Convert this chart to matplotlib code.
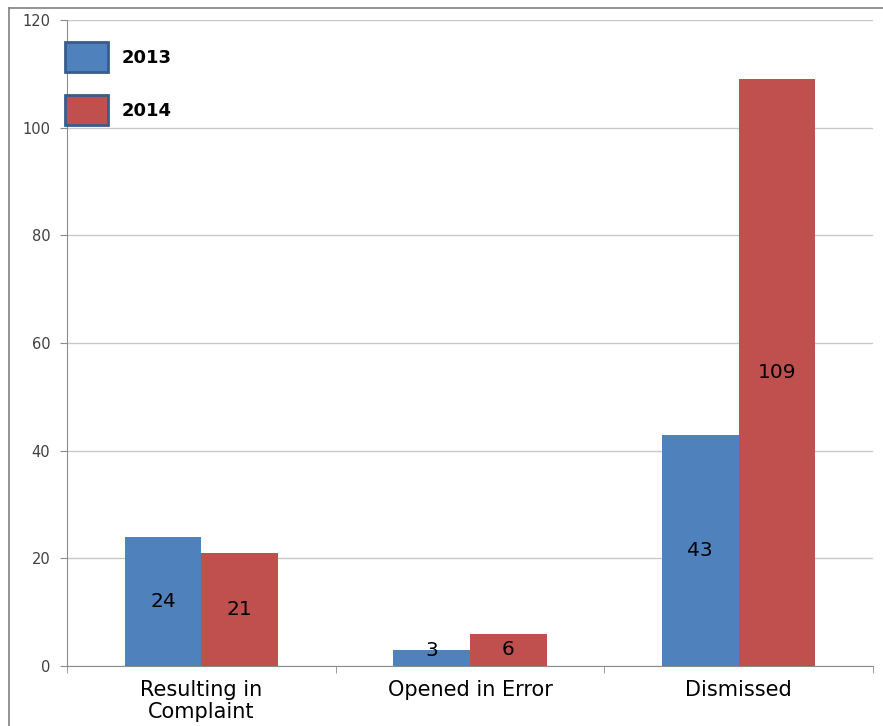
import matplotlib
matplotlib.use("Agg")
import matplotlib.pyplot as plt
from matplotlib.patches import Patch
import numpy as np

# data
categories = ["Resulting in\nComplaint", "Opened in Error", "Dismissed"]
years = ["2013", "2014"]
vals_2013 = [24, 3, 43]
vals_2014 = [21, 6, 109]
colors = ["#4f81bd", "#c0504d"]

fig = plt.figure(figsize=(8.83, 7.26), dpi=100)
ax = fig.add_axes([67 / 883, 1 - 666 / 726, 806 / 883, 646 / 726])

# outer chart border (top and left visible)
fig.add_artist(plt.Line2D([9 / 883, 1], [1 - 8 / 726, 1 - 8 / 726], color="#808080", lw=1.2))
fig.add_artist(plt.Line2D([9 / 883, 9 / 883], [0, 1 - 8 / 726], color="#808080", lw=1.2))

x = np.arange(len(categories))
w = 1 / 3.5
bars1 = ax.bar(x - w / 2, vals_2013, w, color=colors[0], zorder=3)
bars2 = ax.bar(x + w / 2, vals_2014, w, color=colors[1], zorder=3)

# value labels in the middle of each bar
for bars in (bars1, bars2):
    for b in bars:
        h = b.get_height()
        ax.text(b.get_x() + b.get_width() / 2, max(h / 2, 2.9), str(int(h)),
                ha="center", va="center", fontsize=14.5, color="black", zorder=4)

ax.set_ylim(0, 120)
ax.set_yticks(range(0, 121, 20))
ax.set_xlim(-0.5, 2.5)
ax.set_xticks(x)
ax.set_xticklabels(categories, fontsize=15, linespacing=1.12)
ax.set_xticks([-0.5, 0.5, 1.5, 2.5], minor=True)
ax.tick_params(axis="x", which="major", length=0, pad=10)
ax.tick_params(axis="x", which="minor", length=5, color="#8c8c8c")
ax.tick_params(axis="y", length=5, color="#8c8c8c", labelsize=10.5, labelcolor="#404040", pad=7)

ax.grid(axis="y", color="#c8c8c8", lw=1, zorder=0)
for s in ["top", "right"]:
    ax.spines[s].set_visible(False)
ax.spines["left"].set_color("#8c8c8c")
ax.spines["bottom"].set_color("#8c8c8c")

handles = [Patch(facecolor=c, edgecolor="#385d8a", linewidth=2) for c in colors]
ax.legend(handles, years, loc="upper left", bbox_to_anchor=(65 / 883, 1 - 42 / 726),
          bbox_transform=fig.transFigure, frameon=False, borderpad=0, borderaxespad=0,
          handlelength=2.4, handleheight=2.2, labelspacing=1.25, handletextpad=0.75,
          prop={"size": 13, "weight": "bold"})

plt.savefig("out.png", dpi=100)
